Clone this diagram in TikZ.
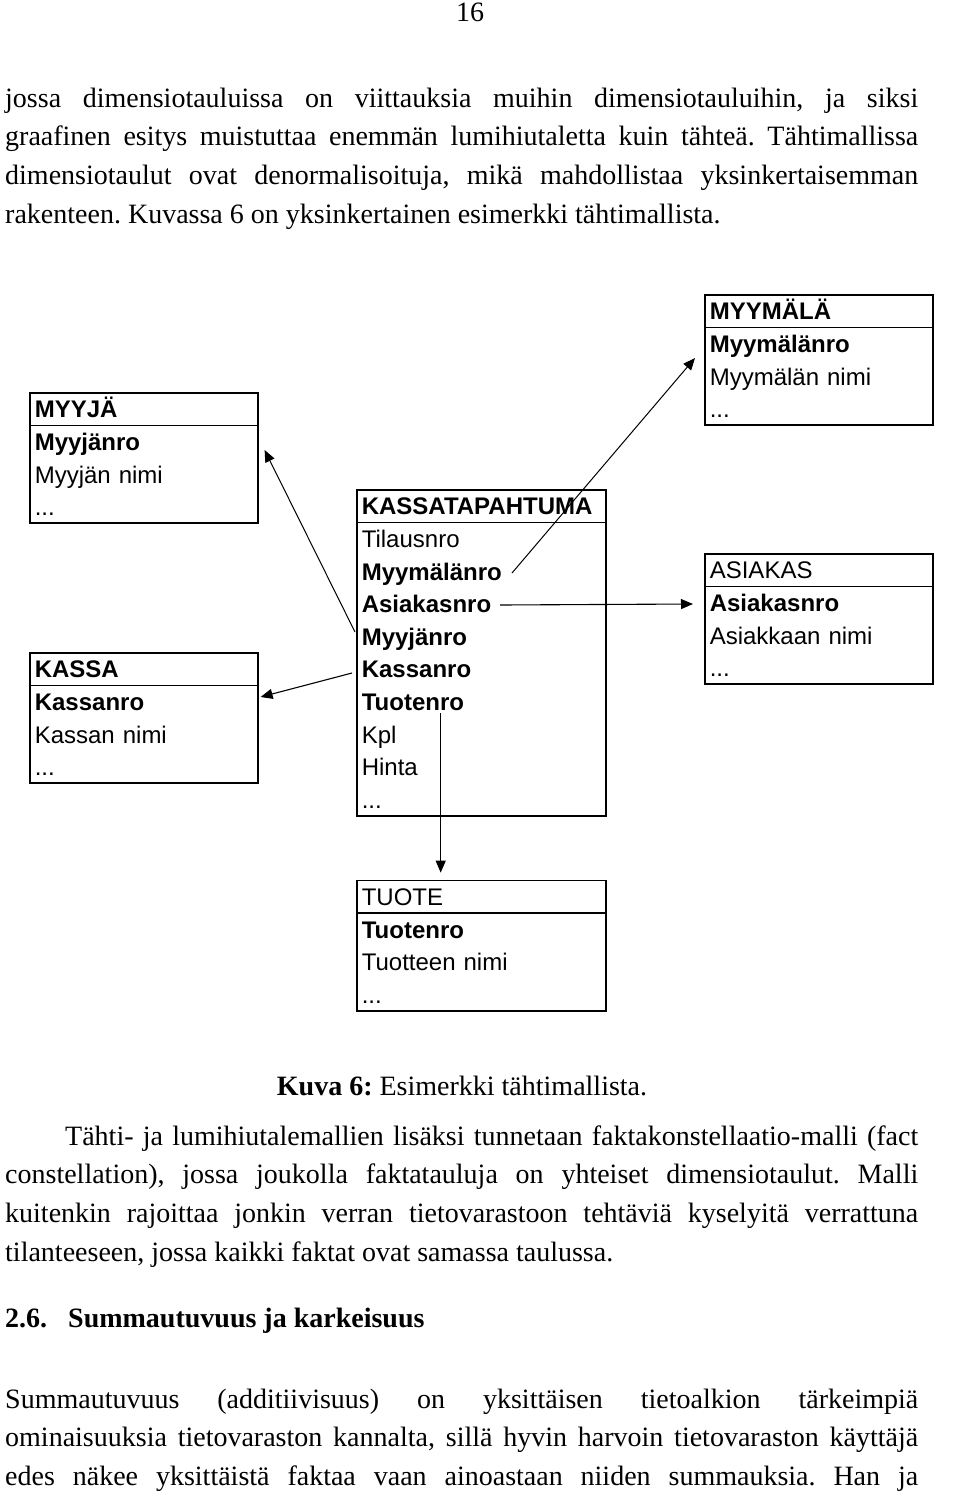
\documentclass[tikz,border=0pt]{standalone}
\usepackage{fontspec}
\setmainfont{Liberation Serif}
\newfontfamily\dgfont{Liberation Sans}
\usetikzlibrary{shapes.multipart, positioning, arrows.meta}
\tolerance=10000
\frenchspacing
\newcommand{\rowstrut}{\rule[-7.6pt]{0pt}{32.6pt}}

\begin{document}
\begin{tikzpicture}[x=1pt, y=-1pt,
  tbl/.style={rectangle split, rectangle split parts=2, draw, line width=1.6pt,
              inner xsep=5pt, inner ysep=-0.8pt, align=left, anchor=north west,
              font=\dgfont\fontsize{24}{32.6}\selectfont},
  body/.style={inner sep=0pt, font=\fontsize{28}{38.7}\selectfont},
  para/.style={body, anchor=base west, text width=913pt, align=justify},
  link/.style={-{Triangle[length=12pt,width=10pt]}, line width=1.1pt}]

\fill[white] (0,0) rectangle (960,1497);
\useasboundingbox (0,0) rectangle (960,1497);

\node[body, anchor=base] (pageno) at (470,21) {16};

\node[para] (intro) at (5,107) {jossa dimensiotauluissa on viittauksia muihin dimensiotauluihin, ja siksi\linebreak
  graafinen esitys muistuttaa enemmän lumihiutaletta kuin tähteä. Tähtimallissa\linebreak
  dimensiotaulut ovat denormalisoituja, mikä mahdollistaa yksinkertaisemman\linebreak
  rakenteen. Kuvassa 6 on yksinkertainen esimerkki tähtimallista.};

\node[tbl, text width=218pt] (myyja) at (29,392)
  {\textbf{MYYJÄ}\rowstrut\nodepart{two}\textbf{Myyjänro}\rowstrut\\Myyjän nimi\rowstrut\\...\rowstrut};
\node[tbl, text width=218pt, below=128pt of myyja] (kassa)
  {\textbf{KASSA}\rowstrut\nodepart{two}\textbf{Kassanro}\rowstrut\\Kassan nimi\rowstrut\\...\rowstrut};
\node[tbl, text width=218pt] (myymala) at (704,294)
  {\textbf{MYYMÄLÄ}\rowstrut\nodepart{two}\textbf{Myymälänro}\rowstrut\\Myymälän nimi\rowstrut\\...\rowstrut};
\node[tbl, text width=218pt, below=127pt of myymala] (asiakas)
  {ASIAKAS\rowstrut\nodepart{two}\textbf{Asiakasnro}\rowstrut\\Asiakkaan nimi\rowstrut\\...\rowstrut};
\node[tbl, text width=239pt] (fact) at (356,489)
  {\textbf{KASSATAPAHTUMA}\rowstrut\nodepart{two}Tilausnro\rowstrut\\\textbf{Myymälänro}\rowstrut\\
   \textbf{Asiakasnro}\rowstrut\\\textbf{Myyjänro}\rowstrut\\\textbf{Kassanro}\rowstrut\\
   \textbf{Tuotenro}\rowstrut\\Kpl\rowstrut\\Hinta\rowstrut\\...\rowstrut};
\node[tbl, text width=239pt, below=63pt of fact] (tuote)
  {TUOTE\rowstrut\nodepart{two}\textbf{Tuotenro}\rowstrut\\Tuotteen nimi\rowstrut\\...\rowstrut};

\draw[link, line width=1pt] ([shift={(-1,143)}]fact.north west) -- ([shift={(6,58)}]myyja.north east);
\draw[link] ([shift={(-4,184)}]fact.north west) -- ([shift={(2,45)}]kassa.north east);
\draw[link, line width=1pt] ([shift={(156,84)}]fact.north west) -- ([shift={(-9,64)}]myymala.north west);
\draw[link] ([shift={(144,116)}]fact.north west) -- ([shift={(-11,51)}]asiakas.north west);
\draw[link] ([shift={(84.7,224)}]fact.north west) -- ([shift={(84.7,-7)}]tuote.north west);

\node[body, anchor=base] (caption) at (462,1095) {\textbf{Kuva 6:} Esimerkki tähtimallista.};

\node[para] (constell) at (5,1145) {\hspace*{60pt}Tähti- ja lumihiutalemallien lisäksi tunnetaan faktakonstellaatio-malli (fact\linebreak
  constellation), jossa joukolla faktatauluja on yhteiset dimensiotaulut. Malli\linebreak
  kuitenkin rajoittaa jonkin verran tietovarastoon tehtäviä kyselyitä verrattuna\linebreak
  tilanteeseen, jossa kaikki faktat ovat samassa taulussa.};

\node[body, anchor=base west, font=\fontsize{28}{38.7}\selectfont\bfseries] (sect) at (5,1327)
  {\makebox[63pt][l]{2.6.}Summautuvuus ja karkeisuus};

\node[para] (summ) at (5,1408) {\parfillskip=0pt Summautuvuus (additiivisuus) on yksittäisen tietoalkion tärkeimpiä\linebreak
  ominaisuuksia tietovaraston kannalta, sillä hyvin harvoin tietovaraston käyttäjä\linebreak
  edes näkee yksittäistä faktaa vaan ainoastaan niiden summauksia. Han ja\par};
\end{tikzpicture}
\end{document}
